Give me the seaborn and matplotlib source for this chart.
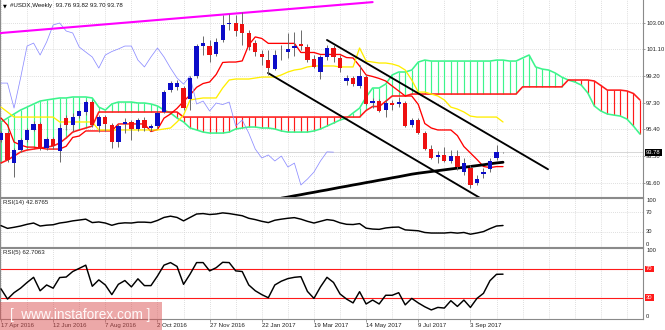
import numpy as np
import matplotlib
matplotlib.use("Agg")
import matplotlib.pyplot as plt
from matplotlib.patches import Rectangle
from matplotlib.transforms import blended_transform_factory
import seaborn as sns

# ---- weekly #USDX bars, bar 0 = week of 17 Apr 2016 ----
opens = [94.64, 95.14, 93.00, 93.93, 94.64, 95.36, 95.78, 94.07, 94.72, 93.86,
         96.21, 95.71, 96.35, 96.64, 97.35, 95.64, 96.28, 95.71, 94.50, 95.78,
         95.93, 95.43, 96.07, 95.50, 95.64, 96.64, 98.20, 98.42, 98.35, 97.57,
         99.20, 101.34, 101.34, 100.77, 101.77, 102.91, 102.98, 102.91, 102.27, 101.55,
         100.77, 100.34, 99.70, 100.88, 100.91, 101.20, 101.48, 101.27, 100.41, 99.49,
         100.56, 101.20, 100.49, 98.85, 99.06, 98.49, 99.13, 97.28, 97.42, 96.78,
         97.25, 97.21, 97.28, 95.71, 96.07, 95.14, 94.00, 93.43, 93.58, 93.15,
         93.50, 92.36, 92.65, 91.58, 92.22, 92.58, 93.36, 93.76]
highs = [95.29, 95.30, 94.07, 94.79, 95.50, 96.00, 95.93, 94.86, 94.86, 95.80,
         96.42, 96.57, 96.78, 97.50, 97.50, 96.42, 96.42, 95.85, 95.78, 96.21,
         96.07, 96.21, 96.28, 95.78, 96.71, 98.20, 98.85, 98.92, 98.49, 99.20,
         101.48, 102.05, 101.77, 101.91, 103.55, 103.62, 103.55, 103.77, 102.48, 101.77,
         101.06, 101.06, 101.06, 101.41, 102.27, 102.34, 102.48, 101.48, 100.70, 100.70,
         101.41, 101.41, 100.70, 99.28, 99.20, 99.99, 99.28, 97.64, 97.57, 97.50,
         97.50, 97.71, 97.42, 96.21, 96.21, 95.29, 94.29, 93.86, 94.14, 93.93,
         93.93, 93.36, 92.86, 92.15, 92.65, 93.36, 94.27, 93.82]
lows = [94.50, 93.08, 92.01, 93.79, 94.50, 95.29, 93.93, 93.93, 94.00, 93.08,
        95.36, 95.29, 96.21, 96.42, 95.57, 95.21, 95.29, 94.07, 94.14, 95.14,
        94.64, 95.29, 95.29, 95.29, 95.50, 96.57, 98.06, 98.20, 96.78, 96.78,
        99.06, 100.70, 100.20, 100.63, 101.63, 102.48, 102.05, 101.41, 101.06, 100.63,
        99.99, 99.28, 99.63, 100.34, 100.49, 100.63, 101.06, 100.20, 99.77, 98.99,
        100.34, 100.20, 99.49, 98.56, 98.49, 98.35, 97.14, 96.92, 96.64, 96.28,
        96.78, 96.99, 95.57, 95.57, 95.07, 93.93, 93.29, 93.00, 93.08, 93.00,
        92.50, 92.15, 91.22, 91.44, 91.94, 92.36, 93.22, 93.70]
closes = [95.14, 93.22, 93.93, 94.64, 95.36, 95.78, 94.00, 94.72, 94.22, 95.50,
          95.71, 96.28, 96.71, 97.35, 95.71, 96.28, 95.78, 94.50, 95.64, 95.93,
          95.43, 96.07, 95.50, 95.64, 96.57, 98.06, 98.70, 98.70, 96.92, 99.06,
          101.34, 101.55, 100.70, 101.63, 102.84, 102.98, 102.41, 102.27, 101.27, 100.91,
          100.56, 99.77, 100.70, 100.95, 101.13, 101.34, 101.34, 100.34, 99.85, 100.56,
          101.20, 100.56, 99.77, 99.06, 98.63, 99.20, 97.21, 97.42, 96.71, 97.28,
          97.17, 97.35, 95.64, 96.07, 95.14, 94.00, 93.36, 93.58, 93.15, 93.50,
          92.72, 93.00, 91.44, 91.86, 92.36, 93.15, 93.80, 93.78]

# ---- Ichimoku lines ----
tenkan = [96.21, 95.71, 94.50, 94.29, 94.14, 94.14, 94.07, 94.00, 94.00, 94.00,
          94.20, 94.83, 94.93, 95.29, 95.29, 95.29, 95.29, 95.29, 95.79, 95.79,
          95.79, 95.79, 95.79, 95.25, 95.39, 96.20, 96.50, 96.90, 97.40, 97.85,
          98.40, 98.67, 98.78, 99.31, 100.17, 100.20, 100.20, 100.28, 101.42, 101.99,
          101.88, 101.53, 101.53, 101.53, 101.53, 101.53, 100.88, 100.88, 100.88, 100.74,
          100.74, 100.74, 100.74, 100.52, 100.49, 99.92, 99.28, 99.17, 99.03, 98.85,
          98.49, 98.14, 97.78, 97.78, 97.18, 95.82, 95.50, 95.36, 95.36, 95.36,
          94.96, 94.18, 93.72, 93.26, 92.76, 92.68, 92.75, 92.75]
kijun = [96.99, 96.64, 96.28, 96.28, 96.28, 96.28, 96.28, 96.28, 96.28, 95.93,
         95.93, 95.93, 95.93, 95.93, 95.93, 95.36, 95.36, 95.36, 95.36, 95.36,
         95.36, 95.36, 95.36, 95.36, 95.36, 95.43, 95.50, 95.93, 96.42, 97.50,
         97.57, 97.64, 97.64, 97.64, 98.35, 98.92, 98.99, 98.99, 98.99, 99.06,
         99.13, 99.13, 99.13, 99.28, 99.49, 99.63, 99.70, 99.85, 99.92, 99.92,
         99.92, 99.92, 99.85, 99.85, 99.85, 101.20, 100.27, 100.20, 100.13, 100.13,
         100.06, 99.92, 99.63, 98.92, 98.06, 98.06, 97.92, 97.78, 97.50, 96.99,
         96.85, 96.64, 96.35, 96.28, 96.28, 96.28, 96.28, 95.93]
span_a = [95.93, 96.21, 96.50, 96.78, 96.99, 97.21, 97.42, 97.50, 97.57, 97.64,
          97.64, 97.71, 97.71, 97.71, 97.64, 96.99, 96.78, 97.21, 97.35, 97.35,
          97.35, 97.28, 97.28, 97.21, 97.07, 96.78, 96.57, 96.21, 95.93, 95.50,
          95.36, 95.21, 95.14, 95.14, 95.14, 95.21, 95.43, 95.50, 95.57, 95.57,
          95.50, 95.50, 95.43, 95.29, 95.21, 95.21, 95.21, 95.21, 95.29, 95.43,
          95.64, 95.85, 96.07, 96.21, 96.57, 96.92, 97.70, 98.35, 98.35, 98.63,
          99.28, 99.49, 99.49, 99.63, 100.20, 100.34, 100.27, 100.27, 100.27, 100.27,
          100.27, 100.27, 100.27, 100.27, 100.27, 100.27, 100.34, 100.34, 100.27, 100.27,
          100.49, 100.70, 99.85, 99.70, 99.63, 99.42, 99.13, 98.92, 98.78, 98.56,
          98.00, 97.07, 96.71, 96.50, 96.42, 96.35, 96.14, 95.64, 95.07]
span_b = [93.01, 93.22, 93.50, 93.79, 93.93, 94.00, 94.07, 94.14, 94.22, 94.43,
          94.79, 95.21, 95.36, 95.50, 95.64, 96.64, 96.64, 96.64, 96.64, 96.64,
          96.64, 96.64, 96.64, 96.64, 96.64, 96.64, 96.64, 96.64, 96.28, 96.28,
          96.28, 96.28, 96.28, 96.28, 96.28, 96.28, 96.28, 96.28, 96.28, 96.28,
          96.28, 96.28, 96.28, 96.28, 96.28, 96.28, 96.28, 96.28, 96.28, 96.28,
          96.28, 96.28, 96.28, 96.28, 96.28, 96.28, 96.75, 97.03, 97.03, 97.40,
          97.78, 97.78, 97.78, 97.92, 97.92, 97.92, 97.92, 97.92, 97.92, 97.92,
          97.92, 97.92, 97.92, 97.92, 97.92, 97.92, 97.92, 97.92, 97.92, 97.92,
          98.43, 98.43, 98.43, 98.43, 98.43, 98.43, 98.43, 98.92, 98.92, 98.92,
          98.92, 98.85, 98.53, 98.20, 98.20, 98.20, 98.14, 97.96, 97.50]
chikou_shift = 26

# thick black support line (starts at bar 43)
support_start = 43
support_line = [90.50, 90.58, 90.67, 90.75, 90.84, 90.92, 91.01, 91.09, 91.18, 91.27,
                91.35, 91.44, 91.52, 91.61, 91.69, 91.78, 91.86, 91.95, 92.03, 92.12,
                92.21, 92.28, 92.34, 92.40, 92.46, 92.52, 92.58, 92.64, 92.70, 92.76,
                92.82, 92.88, 92.95, 93.01, 93.06]

# drawn trend lines: (bar anchors, price anchors)
magenta_bars, magenta_prices = [-1.0, 57.0], [102.23, 104.47]
upper_bars, upper_prices = [50.0, 83.9], [101.77, 92.56]
lower_bars, lower_prices = [40.95, 73.5], [99.42, 90.51]

# ---- RSI readings ----
rsi14 = [42.6, 37.0, 39.2, 41.8, 45.3, 47.9, 41.8, 43.5, 44.4, 47.9,
         49.7, 52.3, 54.0, 55.8, 48.8, 50.1, 47.9, 43.3, 47.0, 48.3,
         47.9, 49.7, 49.7, 48.8, 53.2, 59.3, 61.9, 59.3, 52.3, 59.3,
         66.3, 67.2, 65.3, 66.3, 68.6, 67.2, 65.0, 62.8, 57.6, 54.9,
         51.4, 48.8, 53.6, 55.8, 57.6, 58.9, 55.8, 51.4, 47.9, 51.4,
         54.9, 53.2, 48.3, 45.3, 44.8, 46.7, 37.4, 35.6, 35.0, 37.8,
         39.2, 39.7, 33.9, 33.0, 32.1, 28.6, 27.5, 27.5, 27.5, 28.6,
         27.3, 28.6, 25.1, 27.5, 30.4, 36.5, 41.8, 42.88]
rsi5 = [42.2, 27.9, 36.8, 43.1, 51.1, 58.3, 39.5, 47.6, 43.1, 58.0,
        58.7, 66.4, 70.8, 75.3, 45.8, 54.7, 47.6, 34.1, 48.5, 53.8,
        44.9, 56.2, 46.7, 46.7, 60.1, 75.3, 78.9, 73.5, 48.5, 62.8,
        78.9, 78.9, 67.3, 71.7, 79.3, 78.9, 67.3, 66.4, 47.6, 39.5,
        34.1, 29.7, 47.6, 52.9, 56.5, 58.3, 59.2, 38.6, 28.8, 44.9,
        58.3, 51.1, 35.0, 27.9, 22.5, 38.2, 21.0, 26.5, 21.0, 33.2,
        33.2, 36.8, 19.8, 28.8, 22.5, 17.1, 12.7, 16.2, 15.3, 25.6,
        17.6, 26.5, 16.2, 28.8, 35.9, 53.6, 62.5, 62.7]
rsi_levels = [30, 70]

price_ticks = [91.60, 93.50, 95.40, 97.30, 99.20, 101.10, 103.00]
date_ticks = [0, 8, 16, 24, 32, 40, 48, 56, 64, 72]
date_labels = ["17 Apr 2016", "12 Jun 2016", "7 Aug 2016", "2 Oct 2016",
               "27 Nov 2016", "22 Jan 2017", "19 Mar 2017", "14 May 2017",
               "9 Jul 2017", "3 Sep 2017"]
title_text = "#USDX,Weekly  93.76 93.82 93.70 93.78"
last_price = 93.78
rsi14_label = "RSI(14) 42.8765"
rsi5_label = "RSI(5) 62.7063"
watermark = "[  www.instaforex.com ]"

# ---- styling ----
sns.set_theme(style="white")
plt.rcParams["font.family"] = ["Liberation Sans", "DejaVu Sans"]
FS = 4.4
FS_AXIS = 4.2
GREEN = "#3cf58c"
RED = "#ff1a1a"
BULL = "#0c0cc8"
BEAR = "#ee1010"
FRAME = "#8a8a8a"
GRID = "#d4d4d4"

W, H = 665, 330
fig = plt.figure(figsize=(W / 100, H / 100), dpi=100)
fig.patch.set_facecolor("white")


def box(x0, y0, x1, y1):
    return [x0 / W, 1 - y1 / H, (x1 - x0) / W, (y1 - y0) / H]


ax = fig.add_axes(box(0, 0, 643, 196.5))
ax14 = fig.add_axes(box(0, 197.5, 643, 246.5), sharex=ax)
ax5 = fig.add_axes(box(0, 247.5, 643, 319), sharex=ax)

n = len(closes)
bars = np.arange(n)
o, hi, lo, c = map(np.array, (opens, highs, lows, closes))

# ---- Ichimoku cloud: one vertical stroke per bar ----
a = np.array(span_a)
b = np.array(span_b)
kc = np.arange(len(a))
ax.vlines(kc, np.minimum(a, b), np.maximum(a, b),
          colors=np.where(a >= b, GREEN, RED), lw=0.85, zorder=2)
sns.lineplot(x=kc, y=a, ax=ax, color=GREEN, lw=1.15, zorder=3)
sns.lineplot(x=kc, y=b, ax=ax, color=RED, lw=1.15, zorder=3)

# tenkan / kijun / chikou
sns.lineplot(x=bars, y=tenkan, ax=ax, color="#ff0000", lw=0.95, zorder=4)
sns.lineplot(x=bars, y=kijun, ax=ax, color="#ffee00", lw=0.95, zorder=4)
sns.lineplot(x=bars[: n - chikou_shift], y=c[chikou_shift:], ax=ax,
             color="#8c8cff", lw=0.55, zorder=4)

# drawn lines
sns.lineplot(x=magenta_bars, y=magenta_prices, ax=ax, color="#ff00ff", lw=1.5, zorder=5)
sns.lineplot(x=upper_bars, y=upper_prices, ax=ax, color="black", lw=1.35, zorder=5)
sns.lineplot(x=lower_bars, y=lower_prices, ax=ax, color="black", lw=1.35, zorder=5)
sns.lineplot(x=np.arange(support_start, support_start + len(support_line)),
             y=support_line, ax=ax, color="black", lw=2.0, zorder=5)

# candles
ax.vlines(bars, lo, hi, color="#6a6a6a", lw=0.7, zorder=6)
body_lo = np.minimum(o, c)
body_h = np.maximum(np.abs(c - o), 0.035)
ax.bar(bars, body_h, bottom=body_lo, width=0.66,
       color=np.where(c >= o, BULL, BEAR), edgecolor="none", zorder=7)

# bid line
ax.axhline(last_price, color="#c8c8c8", lw=0.5, zorder=1)

# ---- RSI panels ----
sns.lineplot(x=bars, y=rsi14, ax=ax14, color="black", lw=1.05, zorder=3)
sns.lineplot(x=bars, y=rsi5, ax=ax5, color="black", lw=1.05, zorder=3)
for lvl in rsi_levels:
    ax14.axhline(lvl, color=GRID, ls=(0, (1, 1.5)), lw=0.6, zorder=1)
    ax5.axhline(lvl, color=RED, lw=0.8, zorder=2)

# ---- axes, grid, frame ----
ax.set_ylim(90.62, 104.62)
ax.set_xlim(-0.153, 98.47)
ax14.set_ylim(0, 100)
ax5.set_ylim(0, 100)

for axis in (ax, ax14, ax5):
    axis.set_facecolor("white")
    for side in ("left", "right", "top", "bottom"):
        axis.spines[side].set_color(FRAME)
        axis.spines[side].set_linewidth(0.8)
    axis.set_xlabel("")
    axis.set_ylabel("")
    for gx in np.arange(0, 99, 4):
        axis.axvline(gx, color=GRID, ls=(0, (1, 1.5)), lw=0.6, zorder=0)
ax.spines["top"].set_visible(False)

ax.set_yticks(price_ticks)
ax.set_yticklabels([f"{p:.2f}" for p in price_ticks])
ax.tick_params(axis="y", which="both", left=False, labelleft=False, right=True,
               labelright=True, length=1.5, width=0.6, color=FRAME, pad=0.8,
               labelsize=FS_AXIS, labelcolor="#222222")
for p in price_ticks:
    ax.axhline(p, color=GRID, ls=(0, (1, 1.5)), lw=0.6, zorder=0)

ax14.set_yticks([])
ax5.set_yticks([])
ax5.set_xticks(date_ticks)
ax5.set_xticklabels(date_labels, ha="left")
ax5.tick_params(axis="x", bottom=True, length=2, width=0.6, color=FRAME, pad=1.2,
                labelsize=FS, labelcolor="#222222")
ax.tick_params(axis="x", bottom=False, labelbottom=False)
ax14.tick_params(axis="x", bottom=False, labelbottom=False)


# right-hand labels of the RSI panels
def right_label(axis, y, text, va="center", fc=None, tc="#222222"):
    tr = blended_transform_factory(axis.transAxes, axis.transData)
    kw = {}
    if fc is not None:
        kw["bbox"] = dict(boxstyle="square,pad=0.15", fc=fc, ec="none")
    axis.text(1.005, y, text, transform=tr, fontsize=FS_AXIS, color=tc, va=va,
              ha="left", clip_on=False, **kw)


right_label(ax14, 100, "100", va="top")
right_label(ax14, 70, "70")
right_label(ax14, 30, "30")
right_label(ax14, 0, "0", va="bottom")
right_label(ax5, 100, "100", va="top")
right_label(ax5, 70, "70", fc=RED, tc="white")
right_label(ax5, 30, "30", fc=RED, tc="white")
right_label(ax5, 0, "0", va="bottom")
right_label(ax, last_price, f"{last_price:.2f}", fc="black", tc="white")

ax14.text(0.005, 0.89, rsi14_label, transform=ax14.transAxes, fontsize=FS,
          color="#222222", va="center", ha="left")
ax5.text(0.005, 0.93, rsi5_label, transform=ax5.transAxes, fontsize=FS,
         color="#222222", va="center", ha="left")

fig.text(3 / W, 1 - 5.5 / H, "\u25bc", fontsize=3.6, color="black", va="center",
         ha="left", family=["DejaVu Sans"])
fig.text(10 / W, 1 - 5.7 / H, title_text, fontsize=FS, color="#111111",
         va="center", ha="left")

# watermark banner
fig.patches.append(Rectangle((0, 0), 162 / W, 28 / H, transform=fig.transFigure,
                             facecolor=(0.86, 0.32, 0.32), alpha=0.5,
                             edgecolor="none", zorder=10))
fig.text(10 / W, 1 - 315.5 / H, watermark, fontsize=9.8, color="white", alpha=0.92,
         va="center", ha="left", zorder=11)

fig.savefig("out.png", dpi=100, facecolor="white")
